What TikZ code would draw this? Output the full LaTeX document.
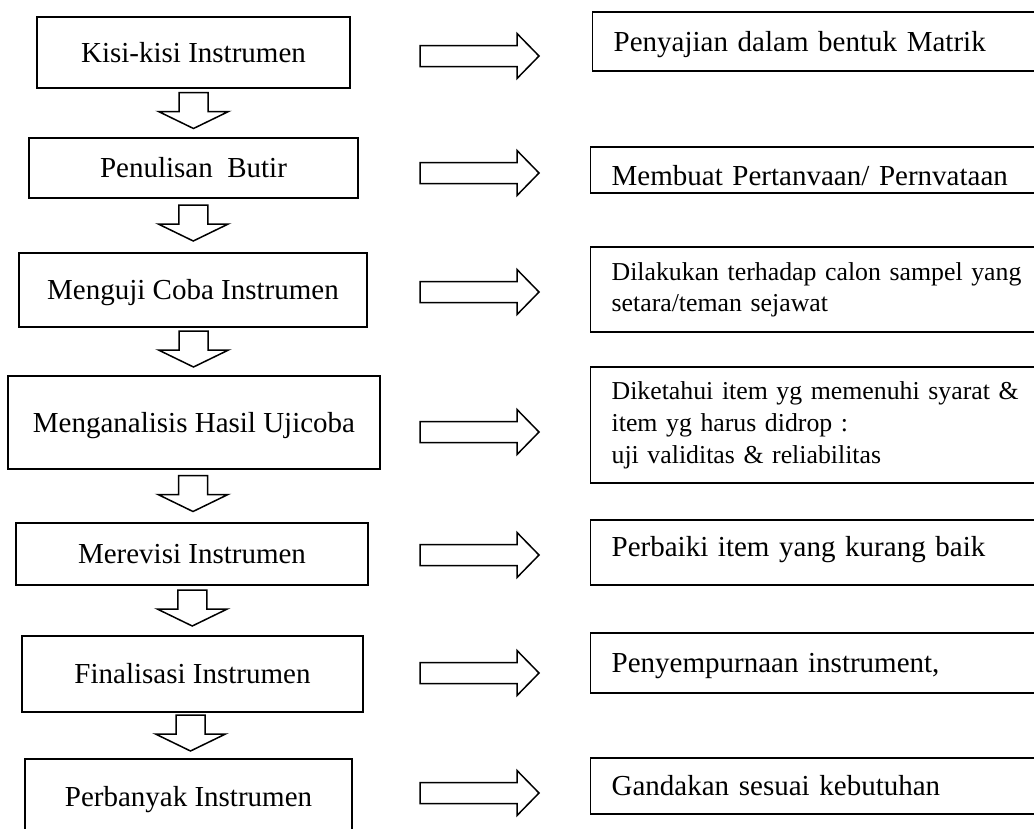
\documentclass[tikz,border=0pt]{standalone}
\usepackage{fontspec}
\setmainfont{Liberation Serif}
\usetikzlibrary{calc}
\tikzset{
  lbox/.style={draw,line width=1.3pt,inner sep=0pt,font=\fontsize{29}{34}\selectfont,text height=19pt,text depth=0pt},
  rbox/.style={draw,line width=1.3pt,anchor=west,inner xsep=21pt,inner ysep=0pt,text width=440pt,align=left},
  big/.style={font=\fontsize{29}{34}\selectfont,text height=19pt,text depth=0pt},
  small/.style={font=\fontsize{25.8}{31}\selectfont},
  hollow/.style={draw,line width=1.5pt,fill=white,line join=miter},
  flowdown/.pic={\path[hollow] (-14.5,-18) -- (14.5,-18) -- (14.5,1) -- (35,1) -- (0,18) -- (-35,1) -- (-14.5,1) -- cycle;},
  flowright/.pic={\path[hollow] (-59.5,-10.5) -- (37.5,-10.5) -- (37.5,-22.5) -- (59.5,0) -- (37.5,22.5) -- (37.5,10.5) -- (-59.5,10.5) -- cycle;}
}
\begin{document}
\begin{tikzpicture}[x=1pt,y=-1pt]
\useasboundingbox (0,0) rectangle (1034,828);
\node[lbox,minimum width=313pt,minimum height=71pt] (k1) at (193.5,52.5) {Kisi-kisi Instrumen};
\node[lbox,minimum width=329pt,minimum height=60pt] (k2) at (193.5,168) {Penulisan~~Butir};
\node[lbox,minimum width=348pt,minimum height=74pt] (k3) at (193,290) {Menguji Coba Instrumen};
\node[lbox,minimum width=372pt,minimum height=93pt] (k4) at (194,422.5) {Menganalisis Hasil Ujicoba};
\node[lbox,minimum width=352pt,minimum height=62pt] (k5) at (192,554) {Merevisi Instrumen};
\node[lbox,minimum width=341pt,minimum height=76pt] (k6) at (192.5,674) {Finalisasi Instrumen};
\node[lbox,minimum width=327pt,minimum height=76pt] (k7) at (188.5,797) {Perbanyak Instrumen};

\node[rbox,big,minimum height=59pt] (r1) at (592,41.5) {Penyajian dalam bentuk Matrik};
\node[rbox,big,text height=30pt,minimum height=46pt] (r2) at (590,170) {Membuat Pertanvaan/ Pernvataan};
\node[rbox,small,minimum height=85pt] (r3) at (590,289.5) {Dilakukan terhadap calon sampel yang\\setara/teman sejawat};
\node[rbox,small,font=\fontsize{25.8}{32}\selectfont,minimum height=116pt] (r4) at (590,425) {Diketahui item yg memenuhi syarat \&\\item yg harus didrop :\\uji validitas \& reliabilitas};
\node[rbox,big,text depth=11pt,minimum height=65pt] (r5) at (590,552.5) {Perbaiki item yang kurang baik};
\node[rbox,big,minimum height=60pt] (r6) at (590,663) {Penyempurnaan instrument,};
\node[rbox,big,minimum height=56pt] (r7) at (590,786) {Gandakan sesuai kebutuhan};

\foreach \a/\b in {k1/k2,k2/k3,k3/k4,k4/k5,k5/k6,k6/k7}
  \pic at ($(\a.south)!0.5!(\b.north)+(0,-2.5)$) {flowdown};
\foreach \y in {56,173,292,432,555,673,793}
  \pic at (479.5,\y) {flowright};
\end{tikzpicture}
\end{document}
